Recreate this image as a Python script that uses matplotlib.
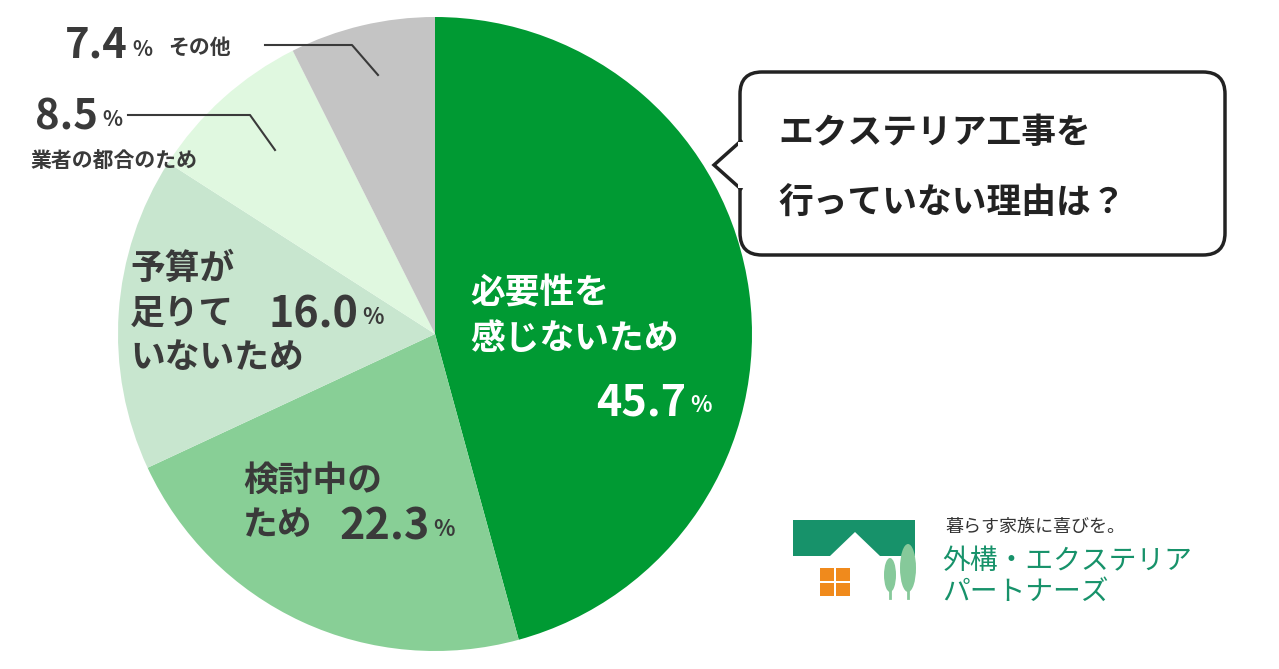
import matplotlib.pyplot as plt
from matplotlib.patches import FancyBboxPatch, Polygon, Rectangle, Ellipse

plt.rcParams['font.family'] = ['Noto Sans CJK JP', 'DejaVu Sans']

labels = ["必要性を感じないため", "検討中のため", "予算が足りていないため", "業者の都合のため", "その他"]
values = [45.7, 22.3, 16.0, 8.5, 7.4]
colors = ["#009a33", "#88cf96", "#c8e6cf", "#e0f8e0", "#c4c4c4"]

W, H = 1279, 669
fig = plt.figure(figsize=(W / 100, H / 100), dpi=100)
ax = fig.add_axes([0, 0, 1, 1])
ax.set_xlim(0, W)
ax.set_ylim(0, H)
ax.set_aspect('equal')
ax.axis('off')

def Y(py):
    return H - py

ax.pie(values, colors=colors, startangle=90, counterclock=False,
       center=(435, Y(334)), radius=317, frame=True,
       wedgeprops=dict(edgecolor='none'))
ax.set_xlim(0, W)
ax.set_ylim(0, H)
ax.axis('off')

dark = "#3a3a3a"
def t(x, y, s, size, color=dark, ha='left'):
    ax.text(x, Y(y), s, fontsize=size, color=color, fontweight='bold', ha=ha, va='center')

def pct(x_end, y, num, size, psize, color=dark):
    # number right-aligned so that the % sign ends near x_end
    ax.text(x_end - psize * 1.6, Y(y), num, fontsize=size, color=color,
            fontweight='bold', ha='right', va='center')
    ax.text(x_end, Y(y + 3), "%", fontsize=psize, color=color,
            fontweight='bold', ha='right', va='center')

# main slice
t(470, 293, "必要性を", 25, 'white')
t(470, 338, "感じないため", 25, 'white')
pct(712, 402, "45.7", 31, 16, 'white')
# 22.3
t(243, 480, "検討中の", 25)
t(243, 525, "ため", 25)
pct(455, 527, "22.3", 31, 16)
# 16.0
t(130, 268, "予算が", 25)
t(130, 313, "足りて", 25)
pct(384, 315, "16.0", 31, 16)
t(130, 358, "いないため", 25)
# 8.5
pct(122, 117, "8.5", 30, 15)
t(30, 160, "業者の都合のため", 15)
ax.plot([128, 250, 275], [Y(115), Y(115), Y(150)], color=dark, lw=1.5)
# 7.4
pct(152, 46, "7.4", 30, 15)
t(168, 47, "その他", 15)
ax.plot([265, 352, 378], [Y(45), Y(45), Y(75)], color=dark, lw=1.5)

# callout box
box = FancyBboxPatch((740, Y(255)), 485, 183, boxstyle="round,pad=0,rounding_size=22",
                     fc='white', ec='#222222', lw=2.5)
ax.add_patch(box)
ax.add_patch(Polygon([[742, Y(140)], [714, Y(165)], [742, Y(190)]], closed=False,
                     fc='white', ec='#222222', lw=2.5, zorder=3))
ax.add_patch(Rectangle((738, Y(188)), 8, 46, fc='white', ec='none', zorder=4))
t(778, 133, "エクステリア工事を", 25, '#222222')
t(778, 203, "行っていない理由は？", 25, '#222222')

# logo
green = "#17926a"
ax.add_patch(Polygon([[793, Y(520)], [915, Y(520)], [915, Y(556)], [880, Y(556)],
                      [855, Y(532)], [830, Y(556)], [793, Y(556)]], fc=green, ec='none'))
for dx in (0, 1):
    for dy in (0, 1):
        ax.add_patch(Rectangle((820 + dx * 16, Y(596) + dy * 15), 14, 13, fc='#f08a1c', ec='none'))
ax.add_patch(Ellipse((890, Y(575)), 12, 34, fc='#86c99a', ec='none'))
ax.add_patch(Ellipse((908, Y(568)), 16, 48, fc='#86c99a', ec='none'))
ax.plot([890, 890], [Y(590), Y(598)], color='#86c99a', lw=2)
ax.plot([908, 908], [Y(590), Y(598)], color='#86c99a', lw=2)
ax.text(945, Y(527), "暮らす家族に喜びを。", fontsize=13, color='#333333', va='center')
ax.text(942, Y(561), "外構・エクステリア", fontsize=20, color=green, va='center')
ax.text(942, Y(592), "パートナーズ", fontsize=20, color=green, va='center')

fig.savefig("out.png", dpi=100)
